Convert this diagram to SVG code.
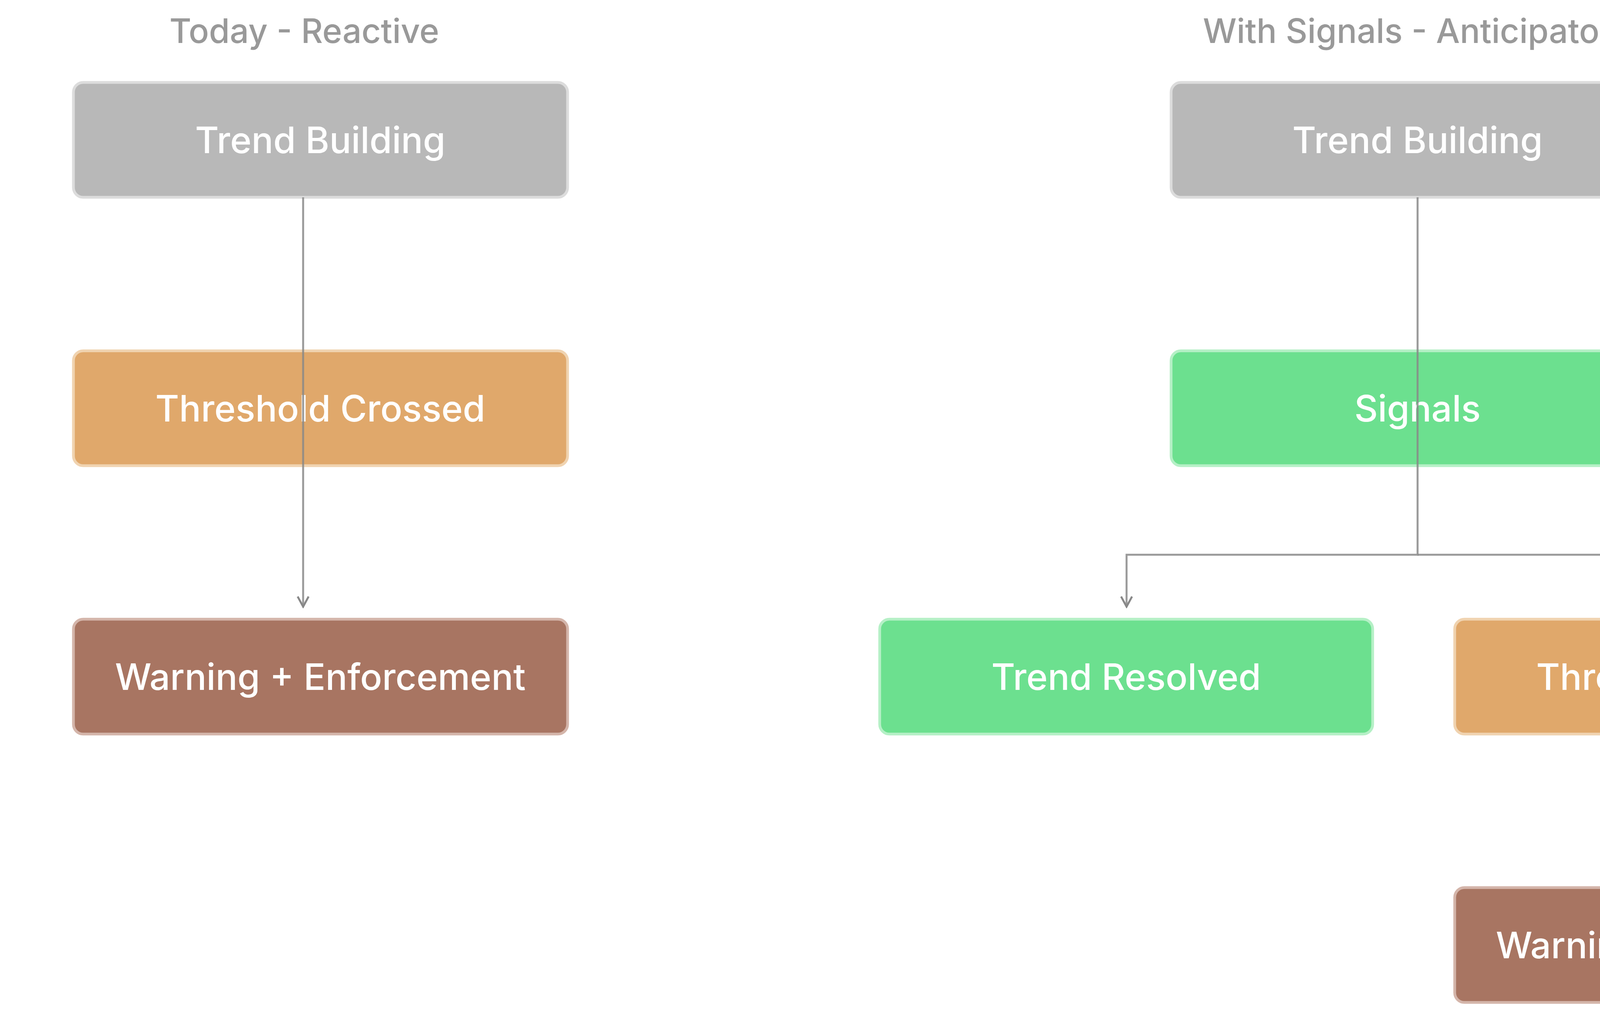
<svg xmlns="http://www.w3.org/2000/svg" width="5154" height="2634" viewBox="0 0 5154 2634">
<style>
.t{font-family:Inter,"Liberation Sans",sans-serif;font-weight:500;font-size:93px;fill:#fff;text-anchor:middle;dominant-baseline:central}
.h{font-family:Inter,"Liberation Sans",sans-serif;font-weight:500;font-size:86px;fill:#999;text-anchor:middle;dominant-baseline:central}
.b{stroke-width:7}
.gray{fill:#b8b8b8;stroke:#dcdcdc}
.org{fill:#e0a86b;stroke:#f0d3b0}
.brn{fill:#a87562;stroke:#d4b5aa}
.grn{fill:#6ce08f;stroke:#b5f0c6}
.c{fill:none;stroke:#888;stroke-width:5;stroke-opacity:0.85}
</style>
<defs>
<marker id="d" viewBox="0 0 40 40" refX="20" refY="36" markerWidth="40" markerHeight="40" markerUnits="userSpaceOnUse" orient="0"><path d="M6 10 L20 36 L34 10" fill="none" stroke="#888" stroke-width="5"/></marker></defs>
<text class="h" x="779" y="79">Today - Reactive</text>
<text class="h" x="3629" y="79">With Signals - Anticipatory</text>
<g id="l-trend"><rect class="b gray" x="188" y="211" width="1265" height="294" rx="25"/><text class="t" x="820" y="358">Trend Building</text></g>
<g id="l-threshold"><rect class="b org" x="188" y="898" width="1265" height="294" rx="25"/><text class="t" x="820" y="1045">Threshold Crossed</text></g>
<g id="l-warning"><rect class="b brn" x="188" y="1585" width="1265" height="294" rx="25"/><text class="t" x="820" y="1732">Warning + Enforcement</text></g>
<g id="r-trend"><rect class="b gray" x="2998" y="211" width="1262" height="294" rx="25"/><text class="t" x="3629" y="358">Trend Building</text></g>
<g id="r-signals"><rect class="b grn" x="2998" y="898" width="1262" height="294" rx="25"/><text class="t" x="3629" y="1045">Signals</text></g>
<g id="r-resolved"><rect class="b grn" x="2252" y="1585" width="1262" height="294" rx="25"/><text class="t" x="2883" y="1732">Trend Resolved</text></g>
<g id="r-threshold"><rect class="b org" x="3724" y="1585" width="1262" height="294" rx="25"/><text class="t" x="4355" y="1732">Threshold Crossed</text></g>
<g id="r-warning"><rect class="b brn" x="3724" y="2272" width="1262" height="294" rx="25"/><text class="t" x="4355" y="2419">Warning + Enforcement</text></g>
<g id="connectors">
<path class="c" d="M776 505 V1553" marker-end="url(#d)"/>
<path class="c" d="M3629 505 V1420 H2884 V1553" marker-end="url(#d)"/>
<path class="c" d="M3629 1420 H4356 V2212" marker-end="url(#d)"/>
</g>
</svg>
